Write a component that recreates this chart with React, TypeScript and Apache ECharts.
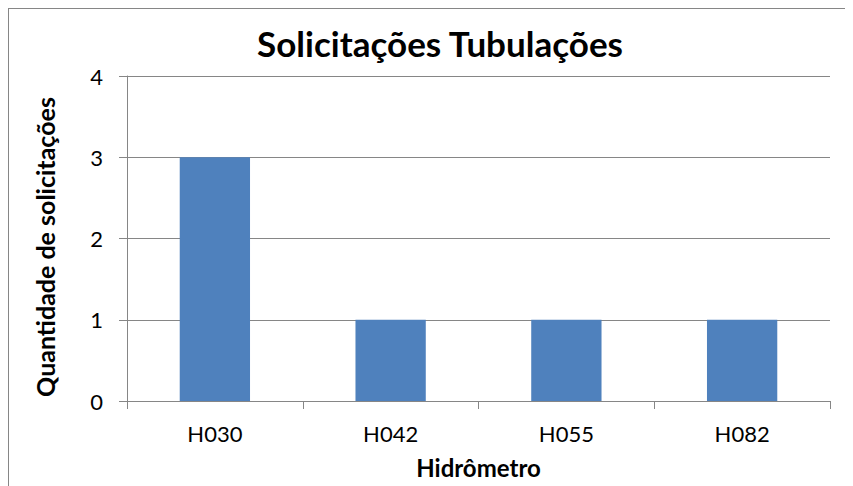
import React, { useEffect, useRef } from "react";
import * as echarts from "echarts";

const categories = ["H030", "H042", "H055", "H082"];
const values = [3, 1, 1, 1];
const yTicks = { min: 0, max: 4, interval: 1 };
const titleText = "Solicitações Tubulações";
const xName = "Hidrômetro";
const yName = "Quantidade de solicitações";

const FONT = "Lato, 'Noto Sans', sans-serif";

export default function App() {
  const ref = useRef<HTMLDivElement>(null);
  useEffect(() => {
    if (!ref.current) return;
    const chart = echarts.init(ref.current, null, { renderer: "svg" });
    chart.setOption({
      animation: false,
      backgroundColor: "#ffffff",
      title: {
        text: titleText,
        left: 426,
        top: 11,
        textAlign: "center",
        textStyle: { fontFamily: FONT, fontWeight: "bold", fontSize: 35, color: "#000000" },
      },
      grid: { left: 118, top: 67, right: 23, bottom: 85 },
      xAxis: {
        type: "category",
        data: categories,
        name: xName,
        nameLocation: "middle",
        nameGap: 54,
        nameTextStyle: { fontFamily: FONT, fontWeight: "bold", fontSize: 24, color: "#000000" },
        axisLine: { lineStyle: { color: "#868686", width: 1 } },
        axisTick: { show: true, length: 8, alignWithLabel: false, lineStyle: { color: "#868686" } },
        axisLabel: { fontFamily: FONT, fontSize: 22, color: "#000000", margin: 21 },
        splitLine: { show: false },
      },
      yAxis: {
        type: "value",
        min: yTicks.min,
        max: yTicks.max,
        interval: yTicks.interval,
        name: yName,
        nameLocation: "middle",
        nameGap: 70,
        nameTextStyle: {
          fontFamily: FONT,
          fontWeight: "bold",
          fontSize: 25,
          color: "#000000",
          padding: [0, 17, 0, 0],
        },
        axisLine: { show: true, lineStyle: { color: "#868686", width: 1 } },
        axisTick: { show: true, length: 8, lineStyle: { color: "#868686" } },
        axisLabel: { fontFamily: FONT, fontSize: 22, color: "#000000", margin: 24 },
        splitLine: { show: true, lineStyle: { color: "#868686", width: 1 } },
      },
      series: [
        {
          type: "bar",
          data: values,
          barWidth: "40%",
          itemStyle: { color: "#4F81BD" },
        },
      ],
    });
    return () => chart.dispose();
  }, []);
  return (
    <div
      style={{
        width: 845,
        height: 478,
        boxSizing: "border-box",
        borderLeft: "1px solid #868686",
        borderTop: "1px solid #868686",
        background: "#fff",
      }}
    >
      <div ref={ref} style={{ width: 844, height: 477 }} />
    </div>
  );
}
